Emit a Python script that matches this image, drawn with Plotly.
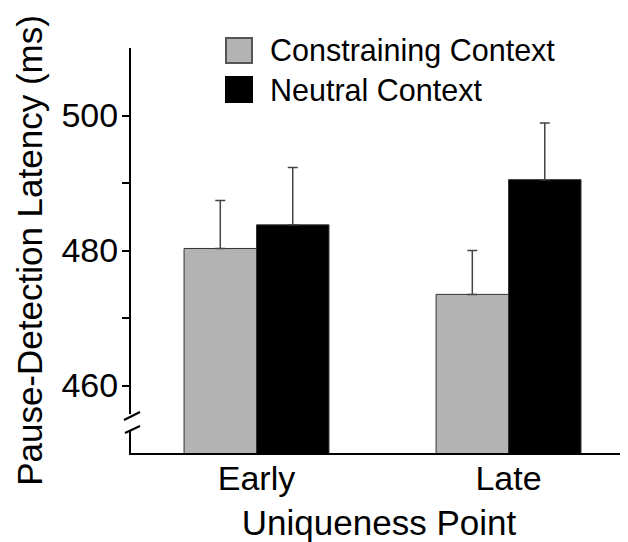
import plotly.graph_objects as go

categories = ["Early", "Late"]
cat_pos = [0, 1]
constraining = [480.3, 473.5]
constraining_err = [7.1, 6.5]
neutral = [483.8, 490.5]
neutral_err = [8.5, 8.4]
y_tickvals = [460, 470, 480, 490, 500]
y_ticktext = ["460", "", "480", "", "500"]
series_names = ["Constraining Context", "Neutral Context"]
series_colors = ["#b3b3b3", "#000000"]
series_borders = ["#555555", "#000000"]

FONT = "Liberation Sans, Arial, Helvetica, sans-serif"

fig = go.Figure()
for name, vals, errs, col in [
    (series_names[0], constraining, constraining_err, series_colors[0]),
    (series_names[1], neutral, neutral_err, series_colors[1]),
]:
    fig.add_trace(go.Bar(
        x=cat_pos, y=vals, name=name,
        marker=dict(color=col, line=dict(color="#333333", width=1)),
        error_y=dict(type="data", array=errs, arrayminus=[0] * len(errs),
                     symmetric=False, color="#444444", thickness=1.5, width=5),
        showlegend=False,
    ))

shapes = []
# axis break: white gap on y axis + two slash marks
shapes.append(dict(type="rect", xref="paper", yref="paper", x0=-0.006, x1=0.006,
                   y0=0.055, y1=0.096, fillcolor="white", line=dict(width=0), layer="above"))
shapes.append(dict(type="line", xref="paper", yref="paper", x0=-0.0141, y0=0.0815,
                   x1=0.0181, y1=0.1012, line=dict(color="black", width=2), layer="above"))
shapes.append(dict(type="line", xref="paper", yref="paper", x0=-0.0121, y0=0.0494,
                   x1=0.0181, y1=0.0667, line=dict(color="black", width=2), layer="above"))

# custom legend
annotations = []
leg_x0 = (226 - 131) / 496
leg_x1 = (252 - 131) / 496
leg_rows = [(38, 63), (77, 102)]
for (ytop, ybot), name, col, bcol in zip(leg_rows, series_names, series_colors, series_borders):
    shapes.append(dict(type="rect", xref="paper", yref="paper",
                       x0=leg_x0, x1=leg_x1,
                       y0=(453 - ybot) / 405, y1=(453 - ytop) / 405,
                       fillcolor=col, line=dict(color=bcol, width=2)))
    annotations.append(dict(xref="paper", yref="paper", x=(268 - 131) / 496,
                            y=(453 - (ytop + ybot) / 2) / 405, text=name,
                            showarrow=False, xanchor="left", yanchor="middle",
                            font=dict(family=FONT, size=30.5, color="black")))

# the page body adds an 8px offset, so the figure is 8px smaller than the window
fig.update_layout(
    width=620, height=534,
    margin=dict(l=123, r=1, t=40, b=89),
    paper_bgcolor="white", plot_bgcolor="white",
    barmode="group", bargap=0.425, bargroupgap=0,
    font=dict(family=FONT, color="black"),
    shapes=shapes, annotations=annotations,
    xaxis=dict(
        range=[-0.498, 1.470], tickvals=cat_pos, ticktext=categories,
        showline=True, linecolor="black", linewidth=2, ticks="",
        showgrid=False, zeroline=False, automargin=False,
        ticklabelstandoff=-6,
        tickfont=dict(family=FONT, size=34, color="black"),
        title=dict(text="Uniqueness Point", font=dict(family=FONT, size=35, color="black"),
                   standoff=19),
    ),
    yaxis=dict(
        range=[450, 510], tickvals=y_tickvals, ticktext=y_ticktext,
        showline=True, linecolor="black", linewidth=2,
        ticks="outside", ticklen=7, tickwidth=1.5, tickcolor="black",
        showgrid=False, zeroline=False, automargin=False,
        ticklabelstandoff=-3,
        tickfont=dict(family=FONT, size=34, color="black"),
        title=dict(text="Pause-Detection Latency (ms)",
                   font=dict(family=FONT, size=35, color="black"), standoff=8),
    ),
)

fig.write_html("out.html")
